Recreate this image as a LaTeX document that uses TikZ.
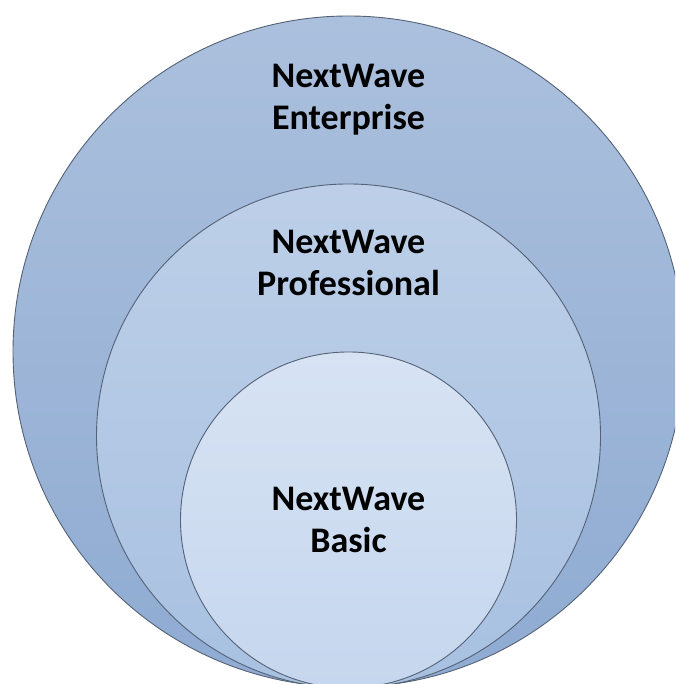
\documentclass[tikz,border=0pt]{standalone}
\usepackage{fontspec}
\setmainfont{Carlito}
\definecolor{outerTop}{RGB}{171,192,221}
\definecolor{outerBot}{RGB}{143,171,210}
\definecolor{midTop}{RGB}{189,207,232}
\definecolor{midBot}{RGB}{168,193,225}
\definecolor{innTop}{RGB}{215,227,243}
\definecolor{innBot}{RGB}{197,214,238}
\definecolor{rim}{RGB}{85,98,118}
\begin{document}
\begin{tikzpicture}[x=1pt,y=1pt,
  ring/.style={circle, draw=rim, line width=0.9pt, inner sep=0pt},
  label/.style={font=\bfseries\fontsize{36}{42}\selectfont, align=center, text=black}]
\useasboundingbox (0,0) rectangle (675,684);
\clip (0,0) rectangle (675,684);
\node[ring, minimum size=671, top color=outerTop, bottom color=outerBot] (outer) at (348.5,332.5) {};
\node[ring, minimum size=504, top color=midTop, bottom color=midBot] (mid) at (348.5,248) {};
\node[ring, minimum size=336, top color=innTop, bottom color=innBot] (inner) at (348.5,164) {};
\node[label] (tEnt) at (348.5,584) {NextWave\\Enterprise};
\node[label] (tPro) at (348.5,421) {NextWave\\Professional};
\node[label] (tBas) at (348.5,164) {NextWave\\Basic};
\end{tikzpicture}
\end{document}
